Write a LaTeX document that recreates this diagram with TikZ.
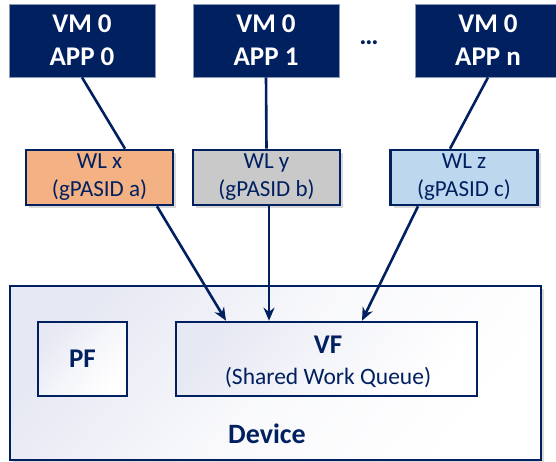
\documentclass[tikz,border=0pt]{standalone}
\usepackage{fontspec}
\setmainfont{Carlito}
\usetikzlibrary{shadows,arrows.meta}
\definecolor{navy}{HTML}{002060}
\definecolor{vmborder}{HTML}{8A9AB5}
\definecolor{wlorange}{HTML}{F4B183}
\definecolor{wlgray}{HTML}{C9C9C9}
\definecolor{wlblue}{HTML}{BDD7EE}
\definecolor{lav}{HTML}{E6E8F3}
\begin{document}
\begin{tikzpicture}[x=1pt,y=-1pt,
  vmbox/.style={draw=vmborder, line width=0.8pt, fill=navy, text=white, font=\fontsize{27}{33}\selectfont\bfseries, align=center, minimum width=146pt, minimum height=73pt, inner sep=0pt},
  wlbox/.style={draw=navy, line width=2.6pt, text=navy, font=\fontsize{23}{28}\selectfont, align=center, minimum width=147pt, minimum height=55pt, inner sep=0pt, drop shadow={opacity=0.3, shadow xshift=3pt, shadow yshift=-3pt}},
  innerbox/.style={draw=navy, line width=2.6pt, text=navy, align=center, minimum height=74pt, inner sep=0pt, shading=axis, top color=lav, bottom color=white, middle color=white!60!lav, shading angle=50},
  conn/.style={draw=navy, line width=2.6pt},
  arr/.style={conn, -{Stealth[length=13pt,width=11pt]}}
]
\useasboundingbox (0,0) rectangle (556,462);
% Device
\node[draw=navy, line width=2.6pt, minimum width=531pt, minimum height=174pt, inner sep=0pt,
  shading=axis, top color=lav, bottom color=white, middle color=white!75!lav, shading angle=50,
  drop shadow={opacity=0.3, shadow xshift=3pt, shadow yshift=-3pt}] (dev) at (275.5,373) {};
\node[innerbox, minimum width=89pt, font=\fontsize{27}{33}\selectfont\bfseries] (pf) at (82.5,359) {PF};
\node[innerbox, minimum width=301pt] (vf) at (326.5,359) {};
\node[text=navy, font=\fontsize{27}{33}\selectfont\bfseries] (vft) at (328,345) {VF};
\node[text=navy, font=\fontsize{23.5}{28}\selectfont] (swq) at (328,378) {(Shared Work Queue)};
\node[text=navy, font=\fontsize{28}{33}\selectfont\bfseries] (devt) at (267,434) {Device};
% VMs
\node[vmbox] (vm0) at (82,40.5) {VM 0\\APP 0};
\node[vmbox] (vm1) at (266,40.5) {VM 0\\APP 1};
\node[vmbox] (vmn) at (488,40.5) {VM 0\\APP n};
\node[text=navy, font=\fontsize{27}{33}\selectfont\bfseries] (dots) at (369,43) {…};
% WLs
\node[wlbox, fill=wlorange] (wlx) at (99.5,177.5) {WL x\\(gPASID a)};
\node[wlbox, fill=wlgray] (wly) at (266.5,177.5) {WL y\\(gPASID b)};
\node[wlbox, fill=wlblue] (wlz) at (464,177.5) {WL z\\(gPASID c)};
% connectors
\draw[conn] (vm0.south) -- ([xshift=25.5pt]wlx.north);
\draw[conn] (vm1.south) -- (wly.north);
\draw[conn] (vmn.south) -- ([xshift=-14pt]wlz.north);
\draw[arr] ([xshift=57.5pt]wlx.south) -- ([xshift=-100.5pt]vf.north);
\draw[arr] ([xshift=2.5pt]wly.south) -- ([xshift=-57.5pt]vf.north);
\draw[arr] ([xshift=-46pt]wlz.south) -- ([xshift=35.5pt]vf.north);
\end{tikzpicture}
\end{document}
